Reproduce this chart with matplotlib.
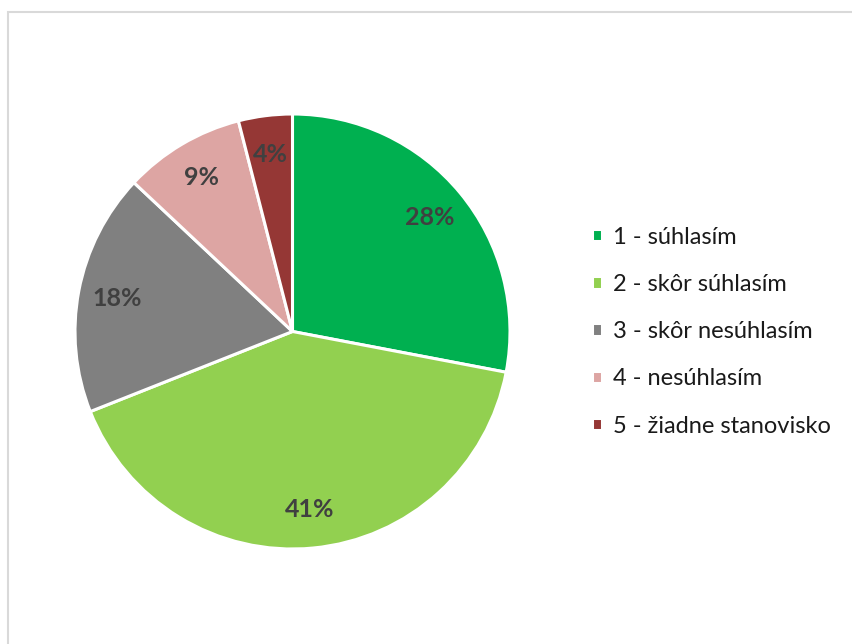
import matplotlib
matplotlib.use("Agg")
import matplotlib.pyplot as plt
from matplotlib.patches import Rectangle

labels = ["1 - súhlasím", "2 - skôr súhlasím", "3 - skôr nesúhlasím",
          "4 - nesúhlasím", "5 - žiadne stanovisko"]
shares = [28, 41, 18, 9, 4]
colors = ["#00B050", "#92D050", "#808080", "#DDA5A3", "#953735"]

plt.rcParams['font.family'] = ['Lato', 'DejaVu Sans']

W, H = 852, 644
fig = plt.figure(figsize=(W / 100, H / 100), dpi=100)

# light frame around the chart area
fig.patches.append(Rectangle((8 / W, -0.1), 1.2, (H - 12) / H + 0.1,
                             transform=fig.transFigure, fill=False,
                             edgecolor='#d9d9d9', lw=1.5))

r = 217.5
cx, cy = 292.5, H - 331.5
ax = fig.add_axes([(cx - r) / W, (cy - r) / H, 2 * r / W, 2 * r / H])

wedges, texts, autotexts = ax.pie(
    shares, colors=colors, startangle=90, counterclock=False,
    autopct=lambda p: f"{p:.0f}%", pctdistance=0.82,
    wedgeprops=dict(edgecolor='white', linewidth=2.2),
    textprops=dict(color='#404040', fontsize=18, fontweight='bold'))
ax.set_xlim(-1, 1)
ax.set_ylim(-1, 1)
ax.set_aspect('equal')
ax.axis('off')

fig.legend(wedges, labels, loc='center left',
           bbox_to_anchor=(592 / W, (H - 331.6) / H),
           frameon=False, fontsize=17, labelspacing=1.11,
           borderaxespad=0, borderpad=0,
           handlelength=0.43, handleheight=0.43, handletextpad=0.47,
           labelcolor='#1a1a1a')

fig.savefig("out.png", dpi=100)
